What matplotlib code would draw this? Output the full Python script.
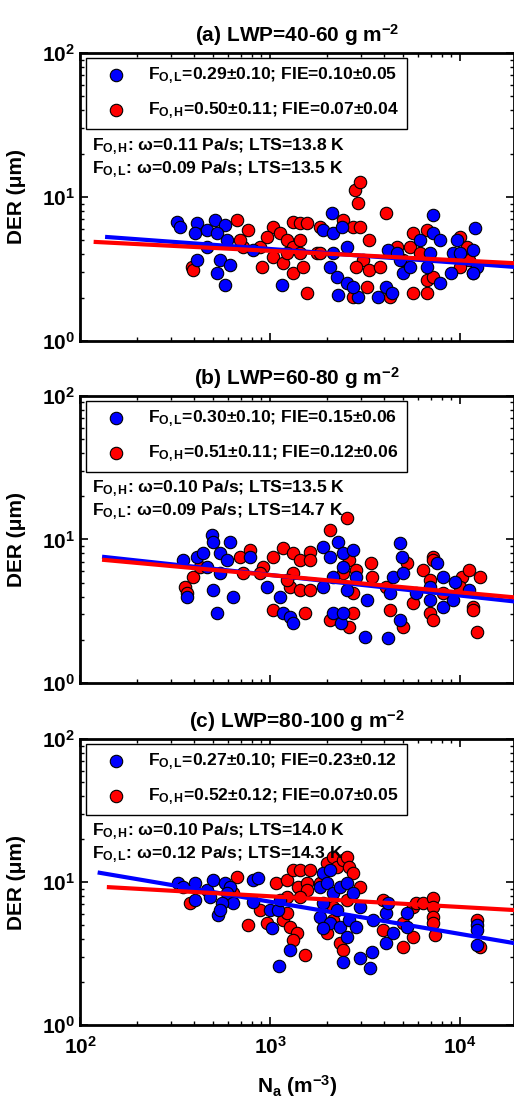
import numpy as np
import matplotlib
matplotlib.use('Agg')
from matplotlib import pyplot as plt
from matplotlib.ticker import LogLocator, LogFormatterMathtext, NullFormatter

plt.rcParams['font.family'] = ['Liberation Sans', 'DejaVu Sans']
plt.rcParams['font.weight'] = 'bold'
plt.rcParams['mathtext.fontset'] = 'custom'
plt.rcParams['mathtext.rm'] = 'Liberation Sans:bold'
plt.rcParams['mathtext.bf'] = 'Liberation Sans:bold'
plt.rcParams['mathtext.it'] = 'Liberation Sans:bold'
plt.rcParams['mathtext.default'] = 'bf'

titles = ['(a) LWP=40-60 g m$^{-2}$', '(b) LWP=60-80 g m$^{-2}$', '(c) LWP=80-100 g m$^{-2}$']
leg_low = ['F$_{O,L}$=0.29$\\pm$0.10; FIE=0.10$\\pm$0.05',
           'F$_{O,L}$=0.30$\\pm$0.10; FIE=0.15$\\pm$0.06',
           'F$_{O,L}$=0.27$\\pm$0.10; FIE=0.23$\\pm$0.12']
leg_high = ['F$_{O,H}$=0.50$\\pm$0.11; FIE=0.07$\\pm$0.04',
            'F$_{O,H}$=0.51$\\pm$0.11; FIE=0.12$\\pm$0.06',
            'F$_{O,H}$=0.52$\\pm$0.12; FIE=0.07$\\pm$0.05']
note_high = ['F$_{O,H}$: \u03c9=0.11 Pa/s; LTS=13.8 K',
             'F$_{O,H}$: \u03c9=0.10 Pa/s; LTS=13.5 K',
             'F$_{O,H}$: \u03c9=0.10 Pa/s; LTS=14.0 K']
note_low = ['F$_{O,L}$: \u03c9=0.09 Pa/s; LTS=13.5 K',
            'F$_{O,L}$: \u03c9=0.09 Pa/s; LTS=14.7 K',
            'F$_{O,L}$: \u03c9=0.12 Pa/s; LTS=14.3 K']

# panel (a)
a_blue_n = [324, 337, 413, 404, 465, 513, 580, 525, 413, 545, 525, 580, 617, 465, 595, 815, 1150,
            2120, 1900, 2150, 2400, 2530, 2070, 2250, 2290, 2530, 2900, 2750, 2150, 3700, 4170, 4100,
            4400, 4830, 5000, 5450, 4650, 6150, 7200, 7200, 7840, 7840, 6950, 9200, 9600, 9000, 10000,
            11700, 12000, 12300, 11700, 6700]
a_blue_d = [6.7, 6.2, 6.6, 5.6, 5.9, 6.9, 6.4, 5.6, 3.65, 3.65, 2.97, 2.45, 3.37, 4.5, 5.0, 4.3, 2.45,
            7.7, 5.9, 5.6, 6.2, 4.5, 3.27, 2.78, 2.09, 2.52, 2.02, 2.37, 4.08, 2.02, 4.3, 2.37,
            2.15, 3.65, 2.97, 3.27, 4.08, 5.0, 7.5, 5.6, 5.0, 2.52, 4.08, 4.08, 5.0, 2.97, 4.08,
            4.3, 6.1, 3.27, 2.97, 3.27]
a_red_n = [390, 395, 670, 765, 720, 695, 905, 885, 1040, 960, 1130, 1230, 1325, 1440, 1040, 1170,
           1325, 1490, 1325, 1440, 1560, 1440, 1230, 1560, 1770, 1830, 2420, 2750, 2980, 2800, 2980,
           2900, 4100, 3300, 3100, 3300, 2850, 2750, 3230, 3800, 4300, 5650, 6700, 6700, 7200, 5650,
           6700, 5450, 6150, 10000, 10900, 11200, 11700, 10000, 4650, 5000, 1830]
a_red_d = [3.27, 3.1, 6.9, 5.9, 4.5, 5.0, 3.27, 4.5, 6.2, 5.3, 5.6, 5.0, 4.5, 4.08, 3.83, 3.47,
           2.97, 3.27, 6.7, 6.6, 6.6, 5.0, 4.08, 2.15, 4.08, 6.2, 6.9, 6.2, 6.2, 11.2, 12.7,
           9.1, 7.7, 5.0, 3.65, 3.1, 3.27, 2.02, 2.37, 3.27, 2.02, 2.15, 2.15, 2.65, 2.78, 5.6,
           5.9, 4.5, 4.08, 5.3, 4.5, 3.65, 2.97, 3.27, 4.5, 3.65, 4.08]
a_fit_n = [139, 19230]
a_fit_blue = [5.27, 3.27]
a_fit_n_red = [121, 19230]
a_fit_red = [4.87, 3.47]

# panel (b)
b_blue_n = [348, 365, 413, 443, 495, 500, 545, 617, 595, 500, 525, 640, 545, 465, 785, 960, 1130,
            1170, 1270, 1325, 1900, 2070, 2290, 2420, 2750, 2420, 2150, 1900, 2530, 2850, 3230,
            2150, 2360, 2420, 3160, 4170, 4420, 4830, 4930, 5000, 4300, 4830, 5900, 6950, 7550,
            8100, 8100, 9400, 9200, 11200, 6950]
b_blue_d = [7.2, 4.0, 7.5, 8.05, 10.7, 9.6, 8.05, 9.6, 7.2, 4.45, 3.07, 4.0, 5.85, 6.4, 7.5, 4.67, 4.0,
            3.07, 2.88, 2.62, 8.87, 7.5, 9.6, 8.05, 8.4, 6.4, 5.5, 4.67, 4.45, 5.5, 3.79,
            3.07, 2.62, 3.07, 2.09, 2.07, 5.5, 9.5, 7.5, 5.85, 4.24, 2.75, 4.24, 4.67, 6.86,
            5.5, 3.39, 5.06, 3.79, 4.45, 3.79]
b_red_n = [357, 365, 395, 428, 695, 785, 720, 920, 885, 1040, 1170, 1325, 1440, 1620, 1620, 1325,
           1270, 1440, 1620, 1040, 1520, 1230, 2070, 2530, 2600, 2850, 2420, 2750, 2070, 2600, 2750,
           3400, 3450, 4100, 4300, 5000, 5250, 5650, 6400, 6950, 7200, 7200, 6950, 7200, 8100,
           10300, 11200, 12700, 11700, 11700, 12300, 10000]
b_red_d = [4.67, 4.24, 5.5, 6.4, 7.5, 8.4, 5.85, 6.4, 5.85, 7.5, 8.7, 8.05, 7.2, 8.2, 7.2, 5.85,
           4.67, 4.45, 4.45, 3.23, 3.07, 5.2, 11.6, 14.1, 7.2, 6.1, 5.85, 4.24, 2.75, 2.45, 3.07,
           6.86, 5.5, 4.67, 3.23, 2.45, 6.86, 3.6, 6.1, 5.2, 7.5, 7.2, 3.07, 2.75, 4.24,
           5.5, 6.1, 5.5, 3.39, 3.23, 2.27, 4.67]
b_fit_n = [134, 19230]
b_fit_blue = [7.55, 3.7]
b_fit_n_red = [134, 19230]
b_fit_red = [7.2, 3.95]

# panel (c)
c_blue_n = [328, 348, 404, 404, 465, 500, 485, 580, 617, 595, 640, 560, 535, 545, 815, 865, 815,
            1000, 1100, 1025, 1130, 1270, 1110, 1830, 1900, 2070, 1990, 2150, 2330, 2530, 2750,
            1900, 1830, 2070, 2250, 2330, 2530, 2600, 1900, 2420, 2850, 2980, 2980, 3360, 3450,
            3500, 4100, 4100, 4420, 4170, 5250, 5250, 12300, 12300, 12300]
c_blue_d = [9.85, 9.2, 9.85, 7.5, 8.8, 10.3, 7.85, 9.85, 9.2, 8.4, 7.1, 7.1, 5.88, 6.35, 10.3, 10.6, 7.25,
            6.35, 6.35, 4.77, 7.5, 3.35, 2.59, 9.2, 11.6, 12.1, 9.85, 8.4, 9.2, 9.85, 8.4,
            7.1, 5.7, 5.2, 6.35, 4.85, 4.12, 5.42, 4.77, 2.75, 4.85, 6.7, 2.94, 2.5, 3.24,
            5.42, 6.07, 3.74, 4.4, 7.1, 6.07, 4.85, 5.0, 4.6, 3.62]
c_red_n = [380, 670, 640, 765, 885, 960, 1080, 1230, 1325, 1400, 1440, 1620, 1560, 1560, 1440, 1230,
           1170, 1270, 1380, 1325, 1520, 1230, 1830, 1990, 2150, 2250, 2420, 2530, 2600, 2750, 2530,
           2150, 2000, 2330, 2420, 2980, 2150, 3950, 5000, 5000, 5650, 5650, 5900, 6400, 7200,
           7200, 7200, 7200, 7400, 12700, 12300, 3950]
c_red_d = [7.1, 10.8, 8.4, 5.0, 6.35, 5.2, 9.85, 10.3, 12.1, 9.2, 12.1, 12.1, 9.85, 8.8, 7.85, 7.85,
           5.42, 4.85, 4.4, 3.93, 3.09, 6.07, 9.85, 13.6, 15.0, 12.8, 14.2, 15.0, 12.8, 11.6, 7.5,
           6.7, 4.4, 3.74, 3.34, 9.2, 5.42, 7.5, 5.2, 3.5, 6.7, 4.12, 7.1, 7.1, 7.73,
           6.7, 5.7, 5.2, 4.25, 3.5, 5.42, 4.6]
c_fit_n = [127, 19230]
c_fit_blue = [11.6, 3.74]
c_fit_n_red = [142, 19230]
c_fit_red = [9.2, 6.37]

panels = [
    (a_blue_n, a_blue_d, a_red_n, a_red_d, a_fit_n, a_fit_blue, a_fit_n_red, a_fit_red),
    (b_blue_n, b_blue_d, b_red_n, b_red_d, b_fit_n, b_fit_blue, b_fit_n_red, b_fit_red),
    (c_blue_n, c_blue_d, c_red_n, c_red_d, c_fit_n, c_fit_blue, c_fit_n_red, c_fit_red),
]

fig = plt.figure(figsize=(5.14, 11.01), dpi=100)
# axes boxes: left, bottom, width, height (figure fraction)
boxes = [(0.1556, 0.6903, 0.8444, 0.2616),
         (0.1556, 0.3797, 0.8444, 0.2607),
         (0.1556, 0.0690, 0.8444, 0.2598)]

for i, (bn, bd, rn, rd, fbn, fb, frn, fr) in enumerate(panels):
    ax = fig.add_axes(boxes[i])
    ax.set_xscale('log')
    ax.set_yscale('log')
    ax.scatter(rn, rd, s=80, c='#ff0000', edgecolors='black', linewidths=0.8, zorder=2,
               label=leg_high[i])
    ax.scatter(bn, bd, s=80, c='#0000ff', edgecolors='black', linewidths=0.8, zorder=2,
               label=leg_low[i])
    ax.plot(fbn, fb, color='#0000ff', lw=3, zorder=3)
    ax.plot(frn, fr, color='#ff0000', lw=3, zorder=3)
    ax.set_xlim(100, 19230)
    ax.set_ylim(1, 100)

    ax.xaxis.set_major_locator(LogLocator(base=10))
    ax.xaxis.set_minor_locator(LogLocator(base=10, subs=np.arange(2, 10)))
    ax.yaxis.set_minor_locator(LogLocator(base=10, subs=np.arange(2, 10)))
    ax.yaxis.set_major_formatter(LogFormatterMathtext())
    ax.tick_params(which='both', direction='in', top=True, right=True, labelsize=15)
    ax.tick_params(which='major', length=6, width=1.2)
    ax.tick_params(which='minor', length=3, width=1)
    ax.tick_params(axis='x', pad=8)
    if i < 2:
        ax.xaxis.set_major_formatter(NullFormatter())
    else:
        ax.xaxis.set_major_formatter(LogFormatterMathtext())
        ax.set_xlabel('N$_a$ (m$^{-3}$)', fontsize=15, fontweight='bold', labelpad=11)
    ax.xaxis.set_minor_formatter(NullFormatter())
    ax.yaxis.set_minor_formatter(NullFormatter())
    for sp in ax.spines.values():
        sp.set_linewidth(2)

    ax.set_ylabel('DER (\u03bcm)', fontsize=15, fontweight='bold')
    ax.yaxis.set_label_coords(-0.125, 0.5)
    ax.set_title(titles[i], fontsize=15, fontweight='bold', pad=8)

    handles, labels = ax.get_legend_handles_labels()
    leg = ax.legend(handles[::-1], labels[::-1], loc='upper left', bbox_to_anchor=(0.014, 0.983),
                    fontsize=12.6, frameon=True, fancybox=False, edgecolor='black',
                    borderaxespad=0, handlelength=2.5, handletextpad=0.6, labelspacing=0.8,
                    borderpad=0.45, markerscale=1.0)
    leg.get_frame().set_linewidth(1)
    leg.get_frame().set_alpha(1)

    ax.text(0.028, 0.663, note_high[i], transform=ax.transAxes, fontsize=12.6,
            fontweight='bold', va='baseline', ha='left')
    ax.text(0.028, 0.583, note_low[i], transform=ax.transAxes, fontsize=12.6,
            fontweight='bold', va='baseline', ha='left')

fig.savefig('out.png', dpi=100)
